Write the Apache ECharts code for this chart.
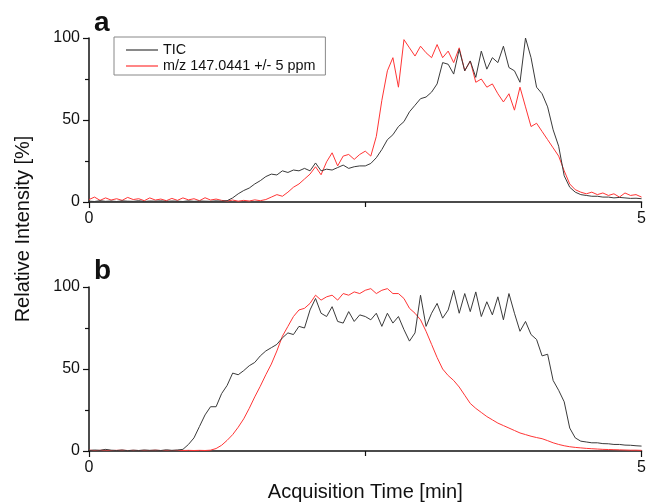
<!DOCTYPE html>
<html>
<head>
<meta charset="utf-8">
<script src="https://cdn.jsdelivr.net/npm/echarts@6/dist/echarts.min.js"></script>
<style>
html,body{margin:0;padding:0;background:#fff;}
#chart{width:649px;height:503px;}
</style>
</head>
<body>
<div id="chart"></div>
<script>
// Acquisition time grid [min]
const times = [0,0.05,0.1,0.15,0.2,0.25,0.3,0.35,0.4,0.45,0.5,0.55,0.6,0.65,0.7,0.75,0.8,0.85,0.9,0.95,
  1,1.05,1.1,1.15,1.2,1.25,1.3,1.35,1.4,1.45,1.5,1.55,1.6,1.65,1.7,1.75,1.8,1.85,1.9,1.95,
  2,2.05,2.1,2.15,2.2,2.25,2.3,2.35,2.4,2.45,2.5,2.55,2.6,2.65,2.7,2.75,2.8,2.85,2.9,2.95,
  3,3.05,3.1,3.15,3.2,3.25,3.3,3.35,3.4,3.45,3.5,3.55,3.6,3.65,3.7,3.75,3.8,3.85,3.9,3.95,
  4,4.05,4.1,4.15,4.2,4.25,4.3,4.35,4.4,4.45,4.5,4.55,4.6,4.65,4.7,4.75,4.8,4.85,4.9,4.95,5];

const seriesNames = ['TIC', 'm/z 147.0441 +/- 5 ppm'];

// Panel a
const ticA = [0.5,0.3,0.8,0.4,0.6,0.3,0.7,0.5,0.4,0.8,
  0.3,0.6,0.5,0.7,0.4,0.6,0.5,0.3,0.7,0.4,
  0.6,0.5,0.4,0.7,0.5,0.8,2.5,5,7,8.5,
  11,13,15.5,17,16.5,19,18,19.5,19,20.5,
  19,23.8,19,20,19.5,21,22.5,20.5,21.5,22,
  22,23.5,27,32,38,41,46,49,55,59,
  63,64,67,72,85,84,78,93,80,86,
  76,92,81,88,85,95,82,80,73,100,
  88,70,66,58,44,34,16,9,6,4.5,
  4,3.5,3.5,3,3,2.5,2.8,2.5,2.2,2.3,
  2];
const mzA = [1.5,3,1,2.5,1.2,2,1,2.8,1.5,2,
  0.8,2.5,1.2,1.8,0.8,2.2,1,2.5,1.3,2,
  0.8,2.6,1.2,1.8,1,0.6,1.2,0.5,1,0.6,
  1.3,0.8,1.5,3,4.5,3.5,6,9,11,14,
  17,21.5,16.6,24.5,30,22,28,29,26,29,
  31,28,40,62,80,88,70,99,94,89,
  95,91,88,96,88,92,85,94,80,86,
  73,75,70,72,66,61,66,56,70,58,
  46,48,43,38,33,28,19,11,7.5,6,
  5,6,4.5,5.5,4,5,3,5.5,4,4.5,
  3];

// Panel b
const ticB = [0.3,0.6,0.4,1.0,0.5,0.3,0.6,0.2,0.5,0.3,
  0.6,0.4,0.5,0.3,0.7,0.4,0.6,1.0,4,8,
  15,22,27,27,35,40,47.5,46.5,49,52,
  54,58,61,63,65,69,72,71,76,75,
  86,93,84,82,88,79,78,85,79,83,
  82,80,84,76,84,78,82,74,67,72,
  95,76,84,90,81,86,98,84,96,85,
  97,82,91,83,94,80,96,84,73,79,
  71,68,58,59,43,37,30,14,8,6,
  5.5,5,5,4.5,4.4,4,4,3.6,3.5,3.2,
  3];
const mzB = [0.5,0.3,0.4,0.6,0.3,0.4,0.5,0.3,0.4,0.3,
  0.4,0.3,0.5,0.3,0.4,0.3,0.4,0.3,0.4,0.3,
  0.4,0.3,0.5,1.5,3.5,6.5,10,14.5,19.6,26,
  33,39.5,46.5,53,61,70,76,82,86,87,
  90,95,92,94,95,92,96,95,97,96,
  98,99,96,98,99,96,96,93,87,84,
  80,73,65,57,50,46,43,39,34,29,
  26,23.5,21,19,17,15.5,14,12.5,11,10,
  9,8.2,7.5,6.3,5,4,3.2,2.6,2.2,1.9,
  1.6,1.4,1.2,1,0.9,0.8,0.7,0.6,0.5,0.5,
  0.4];

const xTicks = {min: 0, max: 5, interval: 5};
const yTicks = {min: 0, max: 100, interval: 50};

const FONT = '"Liberation Sans", Arial, sans-serif';
const AX = '#111';
const BLACK = '#3a3a3a';
const RED = '#ff3535';

function pairs(vals){ return times.map((t, i) => [t, vals[i]]); }

function xAxis(idx, extra){
  return Object.assign({
    type: 'value', gridIndex: idx, min: xTicks.min, max: xTicks.max, interval: xTicks.interval,
    axisLine: {show: true, onZero: false, lineStyle: {color: AX, width: 1.5}},
    axisTick: {show: true, length: 6, lineStyle: {color: AX, width: 1.2}},
    minorTick: {show: true, splitNumber: 2, length: 5, lineStyle: {color: AX, width: 1.2}},
    splitLine: {show: false}, minorSplitLine: {show: false},
    axisLabel: {fontSize: 16, color: AX, margin: 9, fontFamily: FONT}
  }, extra || {});
}
function yAxis(idx){
  return {
    type: 'value', gridIndex: idx, min: yTicks.min, max: yTicks.max, interval: yTicks.interval,
    axisLine: {show: true, lineStyle: {color: AX, width: 1.5}},
    axisTick: {show: true, length: 6, lineStyle: {color: AX, width: 1.2}},
    minorTick: {show: true, splitNumber: 2, length: 4, lineStyle: {color: AX, width: 1.2}},
    splitLine: {show: false}, minorSplitLine: {show: false},
    axisLabel: {fontSize: 16, color: AX, margin: 9, fontFamily: FONT}
  };
}
function line(name, idx, vals, color){
  return {
    name: name, type: 'line', xAxisIndex: idx, yAxisIndex: idx, data: pairs(vals),
    symbol: 'none', showSymbol: false, color: color,
    lineStyle: {color: color, width: 1}, animation: false, z: color === RED ? 2 : 3
  };
}

const chart = echarts.init(document.getElementById('chart'), null, {renderer: 'canvas'});
chart.setOption({
  backgroundColor: '#fff',
  animation: false,
  title: [
    {text: 'a', left: 94, top: 9, padding: 0, textStyle: {fontSize: 28, fontWeight: 'bold', color: '#111', fontFamily: FONT}},
    {text: 'b', left: 94, top: 257, padding: 0, textStyle: {fontSize: 28, fontWeight: 'bold', color: '#111', fontFamily: FONT}}
  ],
  legend: {
    orient: 'vertical', left: 114, top: 37, padding: [6, 10, 2, 12],
    itemWidth: 32, itemHeight: 14, itemGap: 2,
    icon: 'path://M0,0H32V1.2H0Z',
    borderColor: '#888', borderWidth: 1, selectedMode: false,
    textStyle: {fontSize: 14.4, color: '#111', fontFamily: FONT},
    data: seriesNames
  },
  grid: [
    {left: 89, right: 4, top: 38, height: 164},
    {left: 89, right: 4, top: 287, height: 165}
  ],
  xAxis: [
    xAxis(0),
    xAxis(1, {name: 'Acquisition Time [min]', nameLocation: 'middle', nameGap: 31,
      nameTextStyle: {fontSize: 20, color: AX, fontFamily: FONT}})
  ],
  yAxis: [yAxis(0), yAxis(1)],
  graphic: [{
    type: 'text', x: 23, y: 229, rotation: Math.PI / 2,
    style: {text: 'Relative Intensity [%]', font: '20px ' + FONT, fill: AX, align: 'center', verticalAlign: 'middle'}
  }],
  series: [
    line(seriesNames[0], 0, ticA, BLACK),
    line(seriesNames[1], 0, mzA, RED),
    line(seriesNames[0], 1, ticB, BLACK),
    line(seriesNames[1], 1, mzB, RED)
  ]
});
</script>
</body>
</html>
